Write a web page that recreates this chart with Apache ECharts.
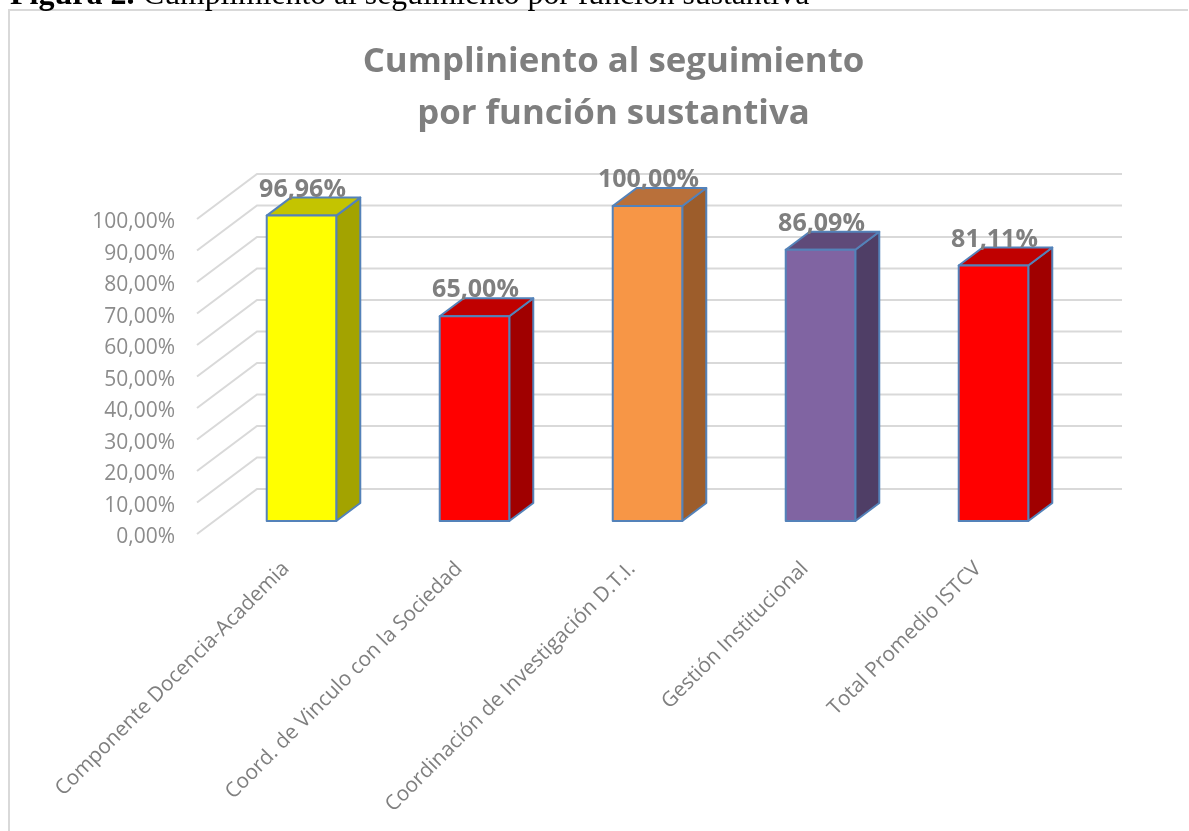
<!DOCTYPE html>
<html><head><meta charset="utf-8">
<style>html,body{margin:0;padding:0;background:#fff}#c{width:1189px;height:831px}</style>
<script src="https://cdn.jsdelivr.net/npm/echarts@6/dist/echarts.min.js"></script>
</head><body><div id="c"></div>
<script>
const categories = ['Componente Docencia-Academia','Coord. de Vinculo con la Sociedad','Coordinación de Investigación D.T.I.','Gestión Institucional','Total Promedio ISTCV'];
const values = [96.96, 65.00, 100.00, 86.09, 81.11];
const valueTicks = [0,10,20,30,40,50,60,70,80,90,100];
const faceColors = ['#ffff00','#ff0000','#f79646','#8064a2','#ff0000'];
const topColors = ['#c4c400','#c00000','#b9703a','#5f4a79','#c00000'];
const sideColors = ['#a3a300','#a00000','#9d5d2b','#4f3e66','#a00000'];
const fmt = v => v.toFixed(2).replace('.', ',') + '%';
const DX = 24, DY = -18, EDGE = '#5482b9';
const FONT = '"Open Sans"';
const chart = echarts.init(document.getElementById('c'), null, {renderer:'canvas'});
chart.setOption({
  animation:false,
  backgroundColor:'#fff',
  title:{text:'Cumpliniento al seguimiento\npor función sustantiva',left:608.5,top:31,textAlign:'center',
    textStyle:{fontFamily:FONT,fontWeight:'bold',fontSize:34.8,lineHeight:52,color:'#7f7f7f'}},
  grid:{left:215,width:865,top:206,height:315},
  xAxis:{type:'category',data:categories,axisLine:{show:false},axisTick:{show:false},splitLine:{show:false},
    axisLabel:{interval:0,rotate:45,margin:29,padding:[0,22,0,0],fontFamily:FONT,fontSize:20.7,color:'#7f7f7f'}},
  yAxis:{type:'value',min:0,max:100,interval:10,axisLine:{show:false},axisTick:{show:false},splitLine:{show:false},
    axisLabel:{show:false}},
  graphic:[
    {type:'polyline',silent:true,shape:{points:[[9,831],[9,10],[1188,10]]},style:{stroke:'#d9d9d9',lineWidth:2,fill:null}},
    {type:'text',left:10,top:-20,style:{text:'Figura 2.',font:'bold 32px "Liberation Serif"',fill:'#000'}},
    {type:'text',left:143,top:-20,style:{text:'Cumplimiento al seguimiento por función sustantiva',font:'31.7px "Liberation Serif"',fill:'#000'}}
  ],
  series:[
    {type:'custom',name:'grid',coordinateSystem:'cartesian2d',z:1,silent:true,
     data:valueTicks.map(v=>[0,v]),
     renderItem(params,api){
       const v=api.value(1), y=api.coord([0,v])[1], x0=params.coordSys.x, x1=x0+params.coordSys.width;
       return {type:'group',children:[
         {type:'polyline',shape:{points:[[x0-18,y+13],[x0+42,y-32],[x1+42,y-32]]},
           style:{stroke:'#d9d9d9',lineWidth:2,fill:null}},
         {type:'text',style:{x:x0-40,y:y+16.5,text:fmt(v),align:'right',verticalAlign:'middle',
           font:'21px '+FONT,fill:'#8c8c8c'}}
       ]};
     }},
    {type:'custom',name:'cumplimiento',coordinateSystem:'cartesian2d',z:2,
     data:values.map((v,i)=>[i,v]),
     renderItem(params,api){
       const i=api.value(0), v=api.value(1), top=api.coord([i,v]), base=api.coord([i,0]);
       const w=api.size([1,0])[0]*0.402, l=top[0]-w/2, r=top[0]+w/2, t=top[1], b=base[1];
       const line={stroke:EDGE,lineWidth:2,lineJoin:'round'};
       return {type:'group',children:[
         {type:'polygon',shape:{points:[[r,t],[r+DX,t+DY],[r+DX,b+DY],[r,b]]},style:{fill:sideColors[i],...line}},
         {type:'polygon',shape:{points:[[l,t],[l+DX,t+DY],[r+DX,t+DY],[r,t]]},style:{fill:topColors[i],...line}},
         {type:'rect',shape:{x:l,y:t,width:w,height:b-t},style:{fill:faceColors[i],...line}},
         {type:'text',z2:10,style:{x:top[0]+1,y:t-26,text:fmt(v),align:'center',verticalAlign:'middle',
           font:'bold 25px '+FONT,fill:'#7f7f7f'}}
       ]};
     }}
  ]
});
</script></body></html>
